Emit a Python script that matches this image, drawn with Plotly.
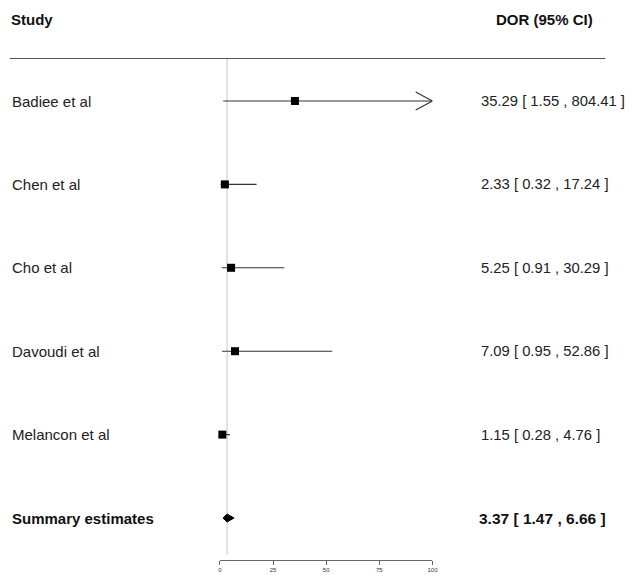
import plotly.graph_objects as go

# ---- data ----
studies = ["Badiee et al", "Chen et al", "Cho et al", "Davoudi et al", "Melancon et al"]
dor = [35.29, 2.33, 5.25, 7.09, 1.15]
ci_low = [1.55, 0.32, 0.91, 0.95, 0.28]
ci_high = [804.41, 17.24, 30.29, 52.86, 4.76]
summary_label = "Summary estimates"
summary_est = 3.37
summary_low = 1.47
summary_high = 6.66
x_ticks = [0, 25, 50, 75, 100]
header_left = "Study"
header_right = "DOR (95% CI)"

W, H = 633, 580
FONT = "Liberation Sans, Arial, Helvetica, sans-serif"
XMIN, XMAX = x_ticks[0], x_ticks[-1]


def px(x):
    return x / W


def py(y):
    return 1 - y / H


# layout geometry (window pixels)
x0_px, x1_px = 220.7, 436.0
row_top_px, row_step_px = 101.0, 83.4
r_top = -row_top_px / row_step_px
r_bottom = r_top + H / row_step_px
unit_px = (x1_px - x0_px) / (XMAX - XMIN)
sep_y = 58.5

fig = go.Figure()

rows = list(range(len(studies)))
sum_row = len(studies)

# CI lines
for i in rows:
    hi = min(ci_high[i], XMAX)
    lo = max(ci_low[i], XMIN)
    fig.add_trace(go.Scatter(x=[lo, hi], y=[i, i], mode="lines",
                             line=dict(color="#333333", width=1.1),
                             hoverinfo="skip", showlegend=False, cliponaxis=False))
    if ci_high[i] > XMAX:
        dx = 17 / unit_px
        dy = 9 / row_step_px
        fig.add_trace(go.Scatter(x=[XMAX - dx, XMAX, XMAX - dx], y=[i - dy, i, i + dy],
                                 mode="lines", line=dict(color="#333333", width=1.1),
                                 hoverinfo="skip", showlegend=False, cliponaxis=False))

# point estimates
fig.add_trace(go.Scatter(x=dor, y=rows, mode="markers",
                         marker=dict(symbol="square", size=8, color="black"),
                         hoverinfo="skip", showlegend=False, cliponaxis=False))

# summary diamond
h = 4.0 / row_step_px
fig.add_trace(go.Scatter(
    x=[summary_low, summary_est, summary_high, summary_est, summary_low],
    y=[sum_row, sum_row - h, sum_row, sum_row + h, sum_row],
    mode="lines", fill="toself", fillcolor="black", hoverinfo="skip",
    line=dict(color="black", width=1), showlegend=False, cliponaxis=False))

# reference vertical line at summary estimate
fig.add_shape(type="line", xref="x", yref="paper",
              x0=summary_est, x1=summary_est, y0=py(555), y1=py(sep_y),
              line=dict(color="#cfcfcf", width=1.2), layer="below")

# header separator line
fig.add_shape(type="line", xref="paper", yref="paper",
              x0=px(8), x1=px(611), y0=py(sep_y), y1=py(sep_y),
              line=dict(color="#555555", width=1.2))

# headers
fig.add_annotation(x=px(7), y=py(20), xref="paper", yref="paper",
                   text="<b>%s</b>" % header_left, showarrow=False,
                   xanchor="left", yanchor="middle",
                   font=dict(family=FONT, size=15, color="#111111"))
fig.add_annotation(x=px(601), y=py(20), xref="paper", yref="paper",
                   text="<b>%s</b>" % header_right, showarrow=False,
                   xanchor="right", yanchor="middle",
                   font=dict(family=FONT, size=15, color="#111111"))

# study labels and estimates
for i in rows:
    fig.add_annotation(x=px(8), y=i, xref="paper", yref="y", text=studies[i],
                       showarrow=False, xanchor="left", yanchor="middle",
                       font=dict(family=FONT, size=15, color="#222222"))
    fig.add_annotation(x=px(483), y=i, xref="paper", yref="y",
                       text=f"{dor[i]:.2f} [ {ci_low[i]:.2f} , {ci_high[i]:.2f} ]",
                       showarrow=False, xanchor="left", yanchor="middle",
                       font=dict(family=FONT, size=14.8, color="#222222"))

fig.add_annotation(x=px(8), y=sum_row, xref="paper", yref="y",
                   text="<b>%s</b>" % summary_label,
                   showarrow=False, xanchor="left", yanchor="middle",
                   font=dict(family=FONT, size=15, color="#111111"))
fig.add_annotation(x=px(481), y=sum_row, xref="paper", yref="y",
                   text=f"<b>{summary_est:.2f} [ {summary_low:.2f} , {summary_high:.2f} ]</b>",
                   showarrow=False, xanchor="left", yanchor="middle",
                   font=dict(family=FONT, size=15.5, color="#111111"))

fig.update_layout(
    width=W, height=H, margin=dict(l=0, r=0, t=0, b=0),
    paper_bgcolor="white", plot_bgcolor="white", hovermode=False,
    xaxis=dict(domain=[px(x0_px), px(x1_px)], range=[XMIN, XMAX],
               tickvals=x_ticks, ticktext=[str(t) for t in x_ticks],
               anchor="free", position=py(560),
               showline=True, linecolor="#666666", linewidth=1.2,
               ticks="outside", ticklen=4, tickcolor="#666666", tickwidth=1.2,
               tickfont=dict(family=FONT, size=6, color="#333333"),
               showgrid=False, zeroline=False, fixedrange=True),
    yaxis=dict(domain=[0, 1], range=[r_bottom, r_top], visible=False,
               showgrid=False, zeroline=False, fixedrange=True),
)

fig.write_html(
    "out.html",
    config={"displayModeBar": False},
    post_script="document.body.style.margin='0';document.body.style.overflow='hidden';",
)
